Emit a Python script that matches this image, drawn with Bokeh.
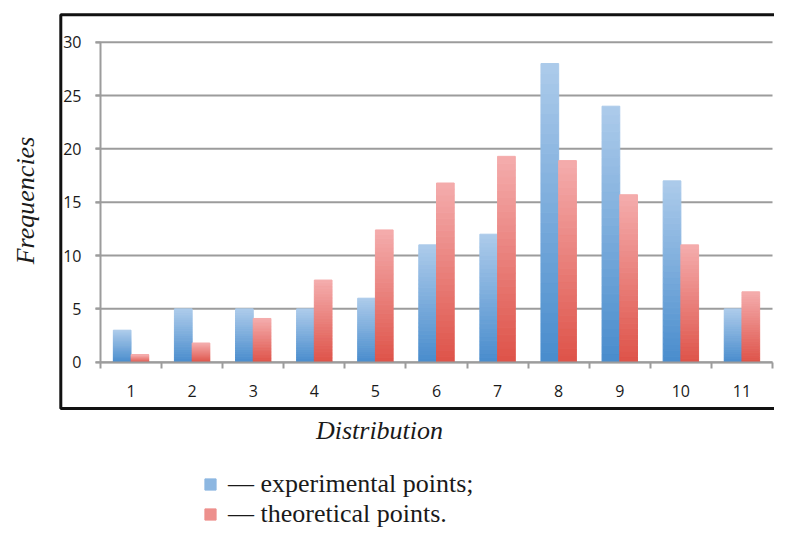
import math
from bokeh.plotting import figure
from bokeh.models import (Range1d, FixedTicker, ColumnDataSource, Label, Legend,
                          LegendItem, BoxAnnotation)
from bokeh.embed import file_html
from bokeh.resources import INLINE

# ---------------- data ----------------
categories = list(range(1, 12))
experimental = [3, 5, 5, 5, 6, 11, 12, 28, 24, 17, 5]
theoretical = [0.7, 1.8, 4.1, 7.7, 12.4, 16.8, 19.3, 18.9, 15.7, 11.0, 6.6]
y_ticks = [0, 5, 10, 15, 20, 25, 30]
x_title = "Distribution"
y_title = "Frequencies"
legend_labels = ["— experimental points;", "— theoretical points."]

# ---------------- layout constants (canvas px) ----------------
W, H = 774, 530
PX_A, PX_B = 100.0, 772.0     # canvas x of 0.5 and 11.5
PY_A, PY_B = 361.7, 41.7      # canvas y of 0 and 30
UX = (PX_B - PX_A) / 11.0
UY = (PY_A - PY_B) / 30.0
X0 = 0.5 - PX_A / UX
X1 = 0.5 + (W - PX_A) / UX
Y0 = -(H - PY_A) / UY
Y1 = PY_A / UY

def xd(px):
    return 0.5 + (px - PX_A) / UX

def yd(py):
    return (PY_A - py) / UY

GRAY = "#9c9c9c"
SERIF = "Liberation Serif"
SANS = "Open Sans"
INK = "#1a1a1a"

def hex2rgb(h):
    h = h.lstrip("#")
    return tuple(int(h[i:i + 2], 16) for i in (0, 2, 4))

def mix(c1, c2, f):
    a, b = hex2rgb(c1), hex2rgb(c2)
    return "#%02x%02x%02x" % tuple(round(a[i] + (b[i] - a[i]) * f) for i in range(3))

def gradient_source(xs, vals, offset, c_bottom, c_top, n=30):
    x, b, t, col = [], [], [], []
    for xi, v in zip(xs, vals):
        for k in range(n):
            x.append(xi + offset)
            b.append(v * k / n)
            t.append(v * (k + 1) / n)
            col.append(mix(c_bottom, c_top, k / (n - 1)))
    return ColumnDataSource(dict(x=x, bottom=b, top=t, color=col))

p = figure(width=W, height=H, output_backend="svg", toolbar_location=None,
           x_range=Range1d(X0, X1), y_range=Range1d(Y0, Y1),
           min_border=0)
p.background_fill_color = "white"
p.border_fill_color = "white"
p.outline_line_color = None
p.xgrid.visible = False
p.ygrid.visible = False

# black frame box (its right edge runs off the page)
p.add_layout(BoxAnnotation(left=xd(60.3), right=xd(W + 40), top=yd(14.3), bottom=yd(408),
                           fill_alpha=0, line_color="#111111", line_alpha=1,
                           line_width=3, level="underlay"))

# horizontal gridlines, limited to the plotting area (with a short stub left of the axis)
x_lo = categories[0] - 0.5
x_hi = categories[-1] + 0.5
p.segment(x0=[xd(PX_A - 5)] * len(y_ticks), x1=[x_hi] * len(y_ticks),
          y0=y_ticks, y1=y_ticks, line_color=GRAY, line_width=2)

BW = 0.29
src_e = gradient_source(categories, experimental, -BW / 2, "#4a8dcd", "#abcaea")
src_t = gradient_source(categories, theoretical, BW / 2, "#de544a", "#f4abab")
r_e = p.vbar(x="x", bottom="bottom", top="top", width=BW, source=src_e,
             fill_color="color", line_color="color", line_width=1)
r_t = p.vbar(x="x", bottom="bottom", top="top", width=BW, source=src_t,
             fill_color="color", line_color="color", line_width=1)

# y axis
yt = FixedTicker(ticks=y_ticks)
ya = p.yaxis[0]
ya.ticker = yt
ya.fixed_location = x_lo
ya.bounds = (y_ticks[0], y_ticks[-1])
ya.axis_line_color = GRAY
ya.axis_line_width = 2
ya.major_tick_line_color = GRAY
ya.major_tick_line_width = 2
ya.major_tick_out = 5
ya.major_tick_in = 0
ya.minor_tick_line_color = None
ya.major_label_standoff = 14
ya.major_label_text_font = SANS
ya.major_label_text_font_size = "16px"
ya.major_label_text_color = INK

# x axis
xa = p.xaxis[0]
xa.ticker = FixedTicker(ticks=categories,
                        minor_ticks=[c - 0.5 for c in categories] + [categories[-1] + 0.5])
xa.fixed_location = 0
xa.bounds = (x_lo, x_hi)
xa.axis_line_color = GRAY
xa.axis_line_width = 2
xa.major_tick_line_color = None
xa.major_tick_out = 0
xa.major_tick_in = 0
xa.minor_tick_line_color = GRAY
xa.minor_tick_line_width = 2
xa.minor_tick_out = 6
xa.minor_tick_in = 0
xa.major_label_standoff = 17
xa.major_label_text_font = SANS
xa.major_label_text_font_size = "16px"
xa.major_label_text_color = INK

# titles
p.add_layout(Label(x=xd(25), y=yd(200), text=y_title, angle=math.pi / 2,
                   text_align="center", text_baseline="middle",
                   text_font=SERIF, text_font_style="italic",
                   text_font_size="26px", text_color=INK))
p.add_layout(Label(x=xd(379), y=yd(430), text=x_title,
                   text_align="center", text_baseline="middle",
                   text_font=SERIF, text_font_style="italic",
                   text_font_size="26px", text_color=INK))

# legend
legend = Legend(items=[LegendItem(label=legend_labels[0], renderers=[r_e], index=20),
                       LegendItem(label=legend_labels[1], renderers=[r_t], index=20)],
                location=(203, 1), orientation="vertical",
                glyph_width=14, glyph_height=14, label_standoff=11,
                label_height=30, spacing=0, padding=0, margin=0,
                border_line_color=None, background_fill_alpha=0,
                label_text_font=SERIF, label_text_font_size="26px",
                label_text_color=INK)
p.add_layout(legend, "center")

open("out.html", "w").write(file_html(p, INLINE))
